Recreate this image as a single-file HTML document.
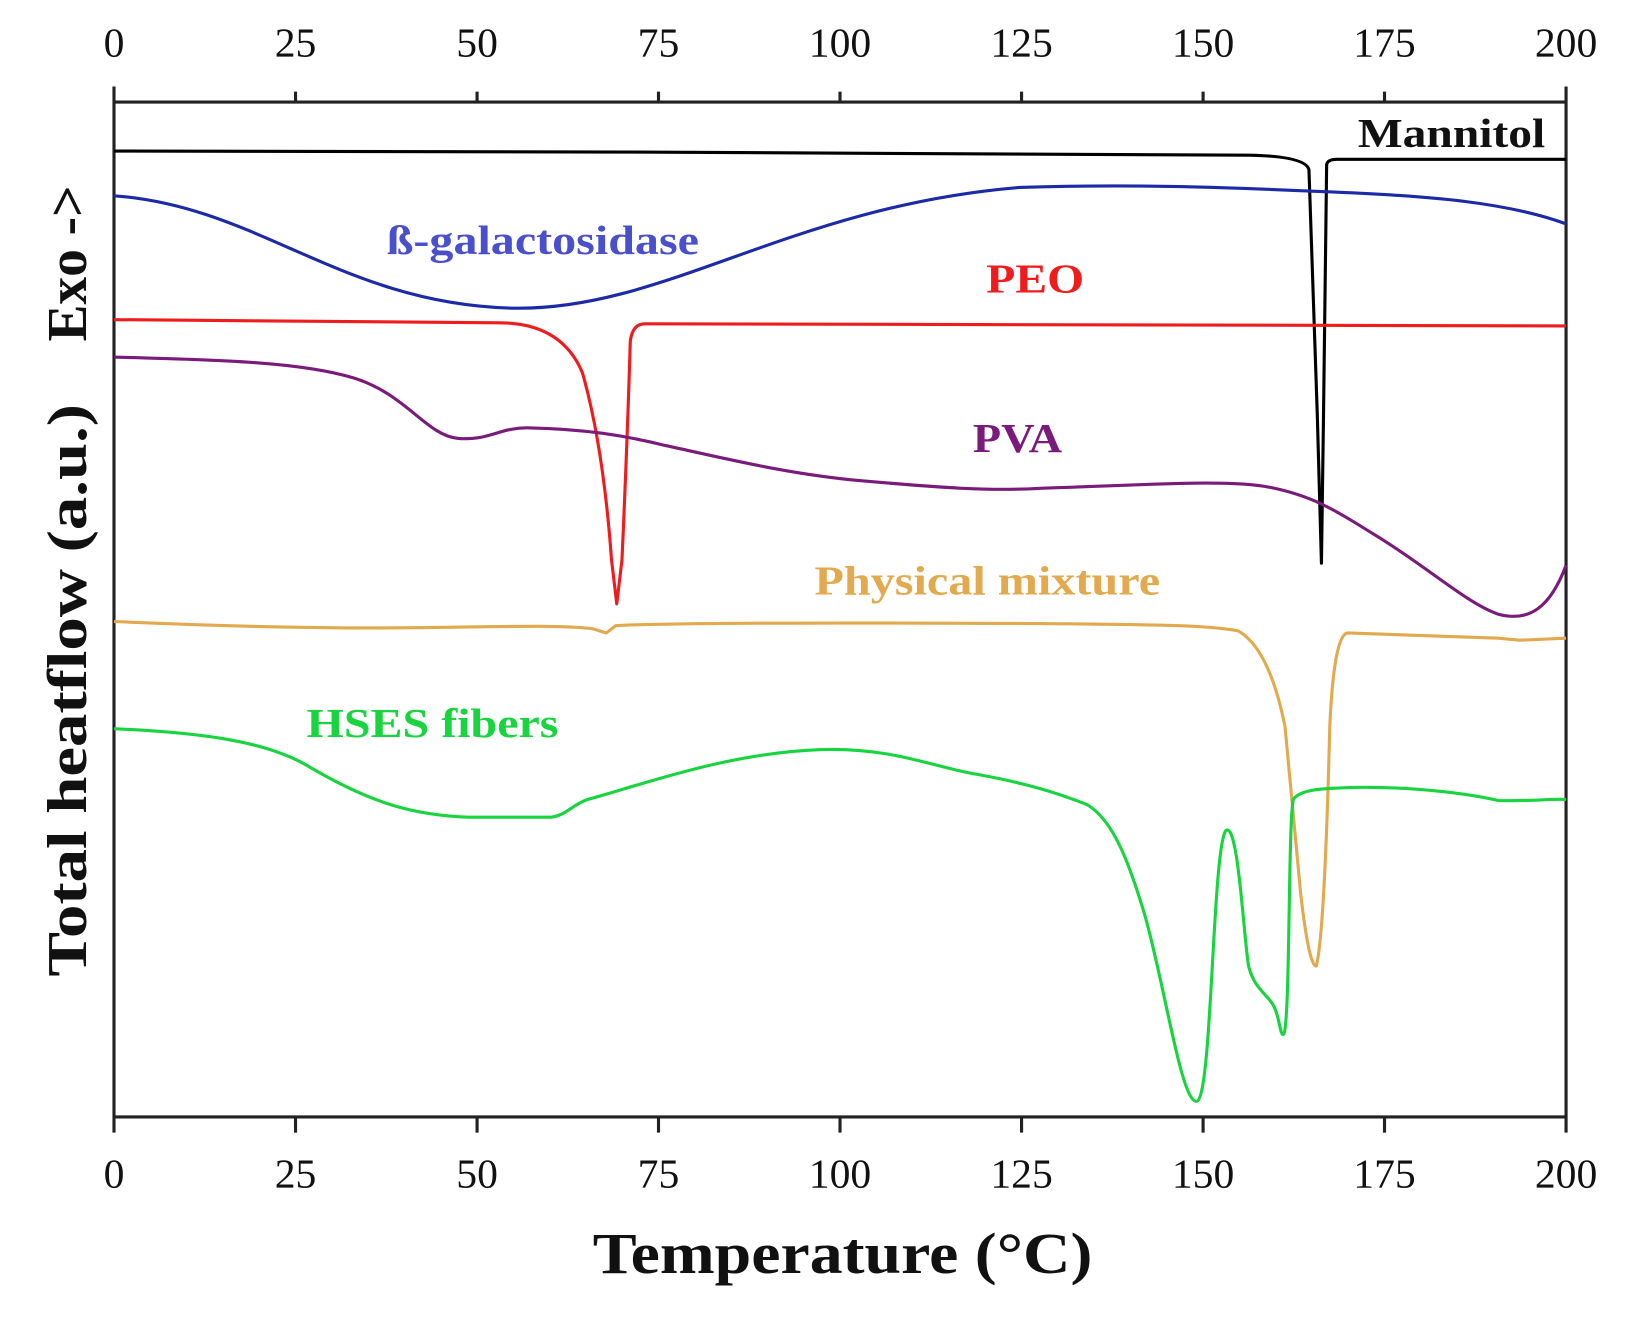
<!DOCTYPE html>
<html><head><style>html,body{margin:0;padding:0;background:#fff}svg{display:block}</style></head>
<body>
<svg width="1631" height="1317" viewBox="0 0 1631 1317" xmlns="http://www.w3.org/2000/svg">
<g transform="translate(-0.5,-2) scale(1.0409)" font-family="Liberation Serif, serif">
<g stroke="#222" stroke-width="3" fill="none">
<line x1="110" y1="100" x2="1505" y2="100"/>
<line x1="110" y1="1075" x2="1505" y2="1075"/>
<line x1="110" y1="85" x2="110" y2="1090"/>
<line x1="1505" y1="85" x2="1505" y2="1090"/>
<path d="M284.4 100V90M458.8 100V90M633.1 100V90M807.5 100V90M981.9 100V90M1156.3 100V90M1330.6 100V90"/>
<path d="M284.4 1075V1090M458.8 1075V1090M633.1 1075V1090M807.5 1075V1090M981.9 1075V1090M1156.3 1075V1090M1330.6 1075V1090"/>
</g>
<g font-size="40" text-anchor="middle" fill="#111">
<text x="110" y="56">0</text><text x="284.4" y="56">25</text><text x="458.8" y="56">50</text><text x="633.1" y="56">75</text><text x="807.5" y="56">100</text><text x="981.9" y="56">125</text><text x="1156.3" y="56">150</text><text x="1330.6" y="56">175</text><text x="1505" y="56">200</text>
<text x="110" y="1143">0</text><text x="284.4" y="1143">25</text><text x="458.8" y="1143">50</text><text x="633.1" y="1143">75</text><text x="807.5" y="1143">100</text><text x="981.9" y="1143">125</text><text x="1156.3" y="1143">150</text><text x="1330.6" y="1143">175</text><text x="1505" y="1143">200</text>
</g>
<text x="570" y="1225" font-size="56" font-weight="bold" fill="#111" textLength="480" lengthAdjust="spacingAndGlyphs">Temperature (°C)</text>
<text transform="translate(83,940) rotate(-90)" font-size="54" font-weight="bold" fill="#111" textLength="550" lengthAdjust="spacingAndGlyphs">Total heatflow (a.u.)</text>
<text transform="translate(83,330) rotate(-90)" font-size="54" font-weight="bold" fill="#111" textLength="150" lengthAdjust="spacingAndGlyphs">Exo -&gt;</text>
<g fill="none" stroke-width="3" stroke-linejoin="round">
<path stroke="#000" d="M110 147 L600 148 L1000 150 L1200 151 Q1255 152 1258 165 L1266 400 L1270 543 L1272 400 L1275 160 Q1276 155 1285 155 L1505 155"/>
<path stroke="#1d2aa8" d="M110 190 C250 200 330 295 495 298 C640 300 760 200 980 182 C1100 178 1200 183 1270 186 C1380 190 1450 197 1505 217"/>
<path stroke="#ee1c1c" d="M110 309 L480 312 Q540 312 560 360 Q580 430 588 540 L593 582 L598 540 Q603 430 606 330 Q608 313 620 313 L1505 315"/>
<path stroke="#7a1a7a" d="M110 345 C220 348 290 350 340 365 C390 380 410 420 440 423 C470 426 480 412 510 413 C560 414 600 420 640 430 C700 443 760 458 830 464 C900 470 950 474 1000 471 C1100 468 1180 462 1220 470 C1260 478 1280 490 1320 515 C1370 545 1410 582 1440 592 C1470 600 1490 585 1505 545"/>
<path stroke="#e2a94e" d="M110 599 C200 603 300 606 400 605 C480 604 540 602 570 606 L583 610 L592 603 C650 600 800 600 1000 601 C1100 602 1160 602 1190 608 Q1220 625 1235 700 L1250 860 Q1258 930 1265 930 Q1273 900 1278 700 Q1282 612 1295 610 L1440 615 L1460 617 L1505 615"/>
<path stroke="#18d43e" d="M110 702 C200 706 260 715 300 740 C360 775 400 785 450 787 L530 787 C545 785 550 775 565 770 C620 755 700 725 790 722 C860 720 900 740 940 746 C990 755 1020 765 1045 775 C1070 790 1085 830 1100 880 C1120 950 1135 1060 1150 1060 C1165 1060 1165 820 1178 800 C1190 790 1195 900 1200 930 C1205 950 1215 955 1222 965 C1230 975 1230 1000 1234 995 C1240 980 1238 790 1243 770 Q1248 762 1270 760 C1330 755 1400 762 1440 771 C1470 772 1490 769 1505 770"/>
</g>
<g font-weight="bold" font-size="40" lengthAdjust="spacingAndGlyphs">
<text x="1305" y="143" fill="#111" textLength="180" lengthAdjust="spacingAndGlyphs">Mannitol</text>
<text x="372" y="246" fill="#4a50cc" textLength="300" lengthAdjust="spacingAndGlyphs">ß-galactosidase</text>
<text x="948" y="283" fill="#ee1c1c" textLength="94" lengthAdjust="spacingAndGlyphs">PEO</text>
<text x="935" y="436" fill="#7a1a7a" textLength="86" lengthAdjust="spacingAndGlyphs">PVA</text>
<text x="783" y="573" fill="#e2a94e" textLength="332" lengthAdjust="spacingAndGlyphs">Physical mixture</text>
<text x="295" y="710" fill="#18d43e" textLength="242" lengthAdjust="spacingAndGlyphs">HSES fibers</text>
</g>
</g>
</svg>
</body></html>
